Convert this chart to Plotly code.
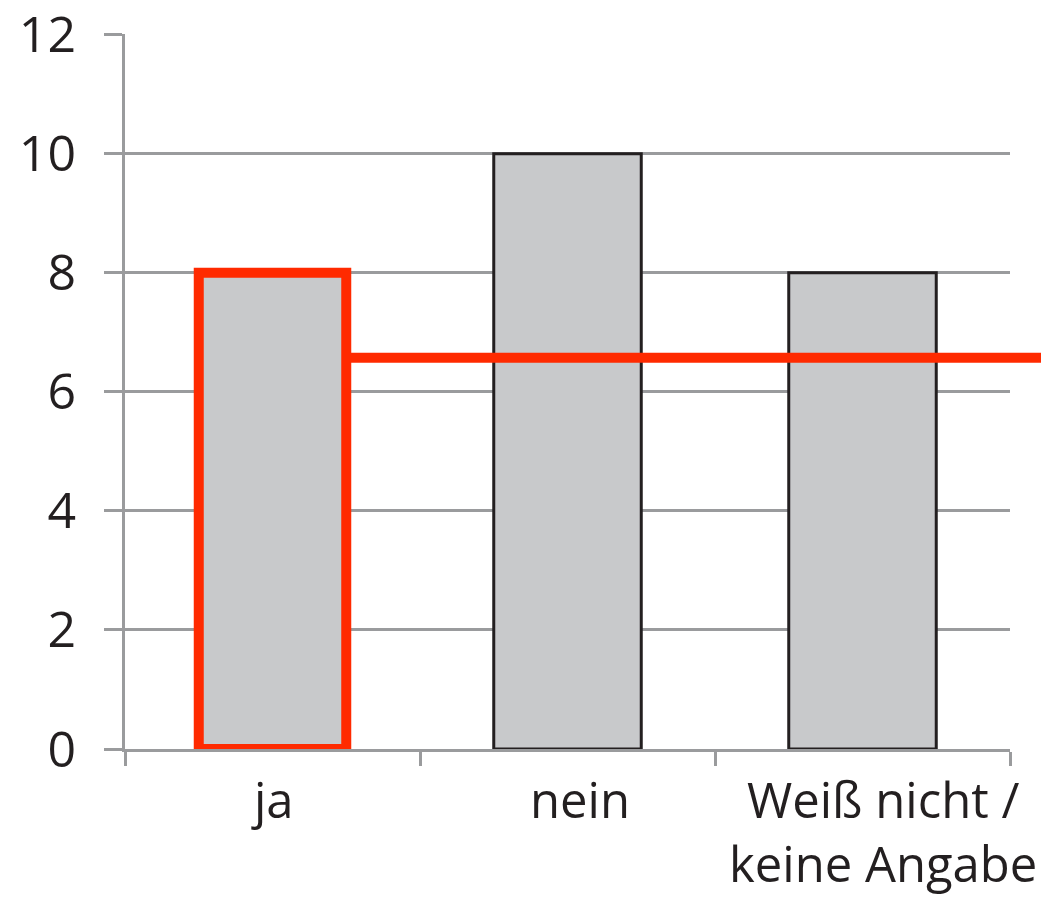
import plotly.graph_objects as go

categories = ["ja", "nein", "Weiß nicht /<br>keine Angabe"]
values = [8, 10, 8]
reference_value = 6.57
y_ticks = [0, 2, 4, 6, 8, 10, 12]

grid_col = "#9a9b9d"
bar_fill = "#c8c9cb"
red = "#ff2a00"
label_shift = [0, 12, 20]

fig = go.Figure()
fig.add_trace(go.Bar(
    x=categories, y=values, width=0.5,
    marker=dict(color=bar_fill,
                line=dict(color=[red, "#231f20", "#231f20"], width=[10, 3, 3])),
    showlegend=False,
))

fig.add_shape(type="line", xref="paper", yref="y",
              x0=0.254, x1=1.06, y0=reference_value, y1=reference_value,
              line=dict(color=red, width=10), layer="above")

font = dict(family="Open Sans, Noto Sans, sans-serif", size=50, color="#231f20")
xfont = dict(family="Open Sans, Noto Sans, sans-serif", size=49, color="#231f20")

for cat, sh in zip(categories, label_shift):
    fig.add_annotation(x=cat, y=0, xref="x", yref="paper", text=cat, showarrow=False,
                       xanchor="center", yanchor="top", yshift=-15, xshift=sh,
                       font=xfont, align="center")

fig.update_layout(
    width=1041, height=889,
    margin=dict(l=117, r=39, t=26, b=148, autoexpand=False),
    paper_bgcolor="white", plot_bgcolor="white",
    font=font,
    bargap=0.5,
)
fig.update_yaxes(range=[0, 12.01], tickvals=y_ticks, showgrid=True, gridcolor=grid_col, gridwidth=3,
                 showline=True, linecolor=grid_col, linewidth=3,
                 ticks="outside", ticklen=18, tickwidth=3, tickcolor=grid_col,
                 ticklabelstandoff=18, zeroline=False, tickfont=font, automargin=False,
                 ticklabeloverflow="allow")
fig.update_xaxes(showline=True, linecolor=grid_col, linewidth=3,
                 ticks="outside", tickson="boundaries", ticklen=14, tickwidth=3, tickcolor=grid_col,
                 showgrid=False, showticklabels=False, range=[-0.5, 2.5], automargin=False)

fig.write_html("out.html")
